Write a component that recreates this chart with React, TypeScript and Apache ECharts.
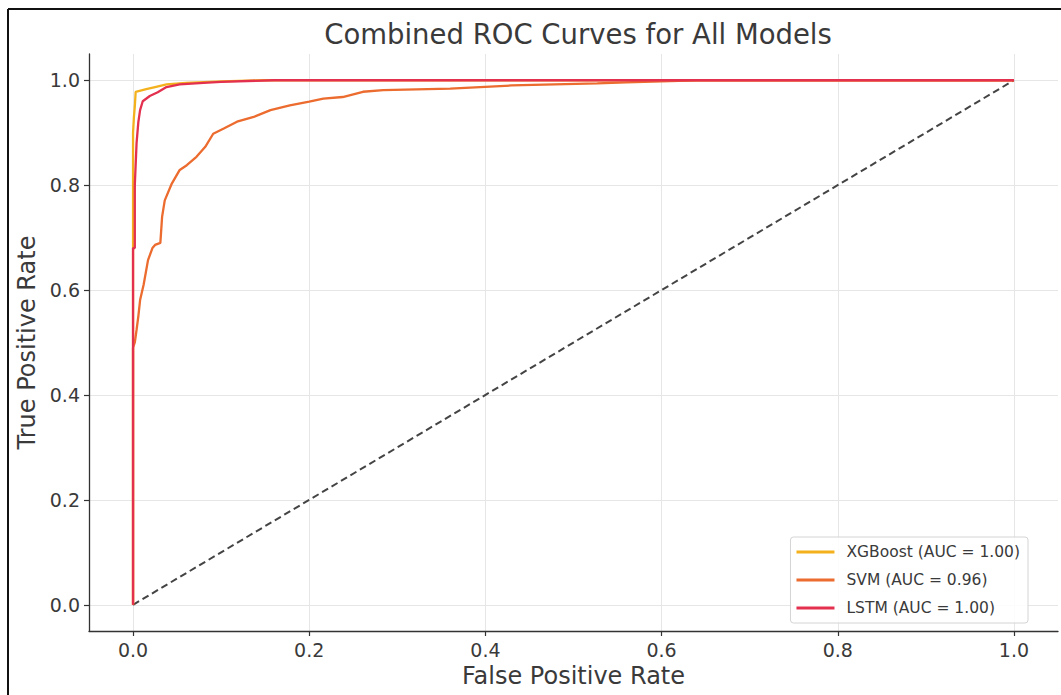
import React, { useEffect, useRef } from "react";
import * as echarts from "echarts";

const TITLE = "Combined ROC Curves for All Models";
const X_NAME = "False Positive Rate";
const Y_NAME = "True Positive Rate";
const tickValues = [0, 0.2, 0.4, 0.6, 0.8, 1.0];

const seriesNames = ["XGBoost (AUC = 1.00)", "SVM (AUC = 0.96)", "LSTM (AUC = 1.00)"];
const seriesColors = ["#F4B11E", "#EC6B2E", "#E3304F"];

const xgbFpr = [0, 0, 0.001, 0.002, 0.003, 0.015, 0.025, 0.038, 0.06, 0.1, 0.15, 1];
const xgbTpr = [0, 0.9, 0.93, 0.95, 0.978, 0.983, 0.987, 0.992, 0.995, 0.998, 1, 1];

const svmFpr = [0, 0, 0.002, 0.004, 0.006, 0.008, 0.012, 0.017, 0.022, 0.025, 0.031, 0.033, 0.036, 0.044, 0.053, 0.061, 0.072, 0.082, 0.091, 0.103, 0.118, 0.137, 0.156, 0.178, 0.2, 0.216, 0.238, 0.261, 0.284, 0.36, 0.43, 0.527, 0.56, 0.64, 1];
const svmTpr = [0, 0.49, 0.5, 0.524, 0.55, 0.581, 0.61, 0.657, 0.68, 0.686, 0.69, 0.74, 0.771, 0.803, 0.829, 0.838, 0.854, 0.873, 0.898, 0.908, 0.921, 0.93, 0.943, 0.952, 0.959, 0.965, 0.968, 0.978, 0.981, 0.984, 0.99, 0.994, 0.996, 1, 1];

const lstmFpr = [0, 0, 0.002, 0.002, 0.004, 0.006, 0.008, 0.011, 0.019, 0.028, 0.038, 0.053, 0.08, 0.1, 0.16, 1];
const lstmTpr = [0, 0.68, 0.68, 0.8, 0.88, 0.92, 0.943, 0.96, 0.97, 0.977, 0.987, 0.992, 0.995, 0.997, 1, 1];

const diagFpr = [0, 1];
const diagTpr = [0, 1];

const FONT = "DejaVu Sans";

function pairs(xs: number[], ys: number[]) {
  return xs.map((x, i) => [x, ys[i]]);
}

export default function App() {
  const ref = useRef<HTMLDivElement>(null);
  useEffect(() => {
    if (!ref.current) return;
    const chart = echarts.init(ref.current, null, { renderer: "svg" });
    const axisCommon = {
      type: "value" as const,
      min: -0.05,
      max: 1.05,
      axisLine: { show: true, onZero: false, lineStyle: { color: "#333", width: 1.3 } },
      axisTick: { show: true, inside: false, length: 5, customValues: tickValues, lineStyle: { color: "#333", width: 1.2 } },
      axisLabel: { customValues: tickValues, formatter: (v: number) => v.toFixed(1), color: "#3a3a3a", fontSize: 19, fontFamily: FONT, margin: 9 },
      splitLine: { show: true, lineStyle: { color: "#e6e6e6", width: 1 } },
      nameLocation: "middle" as const,
      nameTextStyle: { color: "#3a3a3a", fontSize: 24, fontFamily: FONT },
    };
    const data = [
      { fpr: xgbFpr, tpr: xgbTpr },
      { fpr: svmFpr, tpr: svmTpr },
      { fpr: lstmFpr, tpr: lstmTpr },
    ];
    chart.setOption({
      animation: false,
      backgroundColor: "#ffffff",
      title: {
        text: TITLE,
        left: 573,
        textAlign: "center",
        top: 15,
        textStyle: { color: "#3a3a3a", fontSize: 27.5, fontWeight: "normal", fontFamily: FONT },
      },
      grid: { left: 89, right: 3, top: 54, bottom: 64, containLabel: false },
      xAxis: { ...axisCommon, name: X_NAME, nameGap: 32 },
      yAxis: { ...axisCommon, name: Y_NAME, nameGap: 43 },
      legend: {
        orient: "vertical",
        right: 33,
        bottom: 72,
        padding: [7, 8, 7, 6],
        itemGap: 12,
        itemWidth: 38,
        itemHeight: 3,
        icon: "rect",
        backgroundColor: "rgba(255,255,255,0.85)",
        borderColor: "#d4d4d4",
        borderWidth: 1,
        borderRadius: 3,
        textStyle: { color: "#3a3a3a", fontSize: 15.5, fontFamily: FONT, padding: [0, 0, 0, 7] },
        data: seriesNames,
      },
      graphic: [
        { type: "line", shape: { x1: 8, y1: 9, x2: 1061, y2: 9 }, style: { stroke: "#111", lineWidth: 2 }, z: 100 },
        { type: "line", shape: { x1: 8, y1: 9, x2: 8, y2: 695 }, style: { stroke: "#111", lineWidth: 2 }, z: 100 },
      ],
      series: [
        ...data.map((d, i) => ({
          name: seriesNames[i],
          type: "line",
          data: pairs(d.fpr, d.tpr),
          showSymbol: false,
          symbol: "none",
          color: seriesColors[i],
          lineStyle: { color: seriesColors[i], width: 2.3 },
          z: 3 + i,
        })),
        {
          name: "diag",
          type: "line",
          data: pairs(diagFpr, diagTpr),
          showSymbol: false,
          symbol: "none",
          lineStyle: { color: "#444", width: 2, type: [7, 4] },
          z: 2,
        },
      ],
    });
    return () => chart.dispose();
  }, []);
  return <div ref={ref} style={{ position: "fixed", left: 0, top: 0, width: 1061, height: 695 }} />;
}
